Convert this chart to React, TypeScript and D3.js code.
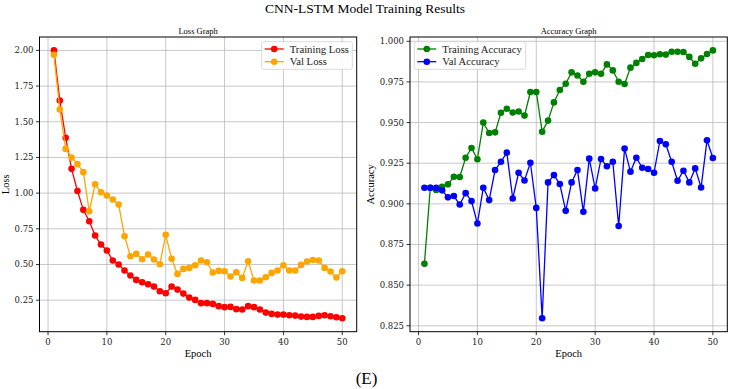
import React from "react";
import * as d3 from "d3";

const epochs: number[] = Array.from({ length: 50 }, (_, i) => i + 1);

const trainLoss: number[] = [
  2.0, 1.649, 1.388, 1.17, 1.015, 0.883, 0.803, 0.703, 0.64, 0.598,
  0.528, 0.5, 0.458, 0.423, 0.392, 0.376, 0.362, 0.345, 0.313, 0.299,
  0.345, 0.324, 0.296, 0.268, 0.252, 0.229, 0.229, 0.224, 0.208, 0.201,
  0.203, 0.187, 0.185, 0.208, 0.201, 0.185, 0.163, 0.154, 0.149, 0.149,
  0.144, 0.142, 0.135, 0.133, 0.133, 0.14, 0.144, 0.137, 0.13, 0.123,
];

const valLoss: number[] = [
  1.969, 1.586, 1.31, 1.249, 1.203, 1.147, 0.873, 1.062, 1.006, 0.983,
  0.955, 0.92, 0.698, 0.558, 0.575, 0.537, 0.57, 0.535, 0.502, 0.708,
  0.54, 0.434, 0.469, 0.476, 0.495, 0.528, 0.516, 0.444, 0.455, 0.453,
  0.416, 0.446, 0.406, 0.523, 0.388, 0.388, 0.411, 0.441, 0.458, 0.495,
  0.458, 0.458, 0.497, 0.521, 0.532, 0.528, 0.476, 0.451, 0.409, 0.453,
];

const trainAcc: number[] = [
  0.8632, 0.9099, 0.9085, 0.9105, 0.912, 0.9167, 0.9165, 0.9284, 0.9344, 0.9274,
  0.95, 0.9436, 0.944, 0.956, 0.9585, 0.9562, 0.9568, 0.9543, 0.9688, 0.9688,
  0.9444, 0.9512, 0.9624, 0.97, 0.9739, 0.9809, 0.979, 0.9751, 0.98, 0.9809,
  0.98, 0.9858, 0.9821, 0.9751, 0.9737, 0.9838, 0.9867, 0.9891, 0.9916, 0.9914,
  0.992, 0.9918, 0.9936, 0.9936, 0.9934, 0.9904, 0.9862, 0.9895, 0.9922, 0.9944,
];

const valAcc: number[] = [
  0.9099, 0.9099, 0.9099, 0.9083, 0.904, 0.9048, 0.8996, 0.9066, 0.9017, 0.8879,
  0.9099, 0.9023, 0.9208, 0.9259, 0.9315, 0.9033, 0.9191, 0.9144, 0.9253, 0.8975,
  0.8296, 0.9132, 0.9177, 0.9122, 0.8957, 0.9132, 0.9208, 0.8951, 0.9278, 0.9095,
  0.9276, 0.9231, 0.9259, 0.8864, 0.934, 0.9198, 0.9284, 0.9222, 0.9214, 0.9191,
  0.9387, 0.9367, 0.9259, 0.9142, 0.9204, 0.9132, 0.9218, 0.9101, 0.9391, 0.9282,
];

const xTicks: number[] = [0, 10, 20, 30, 40, 50];
const lossTicks: number[] = [0.25, 0.5, 0.75, 1.0, 1.25, 1.5, 1.75, 2.0];
const accTicks: number[] = [0.825, 0.85, 0.875, 0.9, 0.925, 0.95, 0.975, 1.0];

const SERIF = "'Liberation Serif', 'Times New Roman', serif";
const TICKFONT = "'DejaVu Serif', serif";

type Series = { name: string; values: number[]; color: string };

function pad(min: number, max: number): [number, number] {
  const r = max - min;
  return [min - 0.05 * r, max + 0.05 * r];
}

function Panel(props: {
  left: number; top: number; right: number; bottom: number;
  title: string; ylabel: string; yTicks: number[]; yFmt: (v: number) => string;
  series: Series[]; legend: { x: number; w: number };
  ylabelX: number;
}) {
  const { left, top, right, bottom, series } = props;
  const x = d3.scaleLinear().domain(pad(1, 50)).range([left, right]);
  const all = series.flatMap((s) => s.values);
  const y = d3.scaleLinear().domain(pad(d3.min(all)!, d3.max(all)!)).range([bottom, top]);
  const line = d3.line<number>().x((_, i) => x(epochs[i])).y((d) => y(d));
  const cx = (left + right) / 2;
  const cy = (top + bottom) / 2;
  const lg = props.legend;
  return (
    <g>
      {xTicks.map((t) => (
        <line key={"gx" + t} x1={x(t)} x2={x(t)} y1={top} y2={bottom} stroke="#b0b0b0" strokeOpacity={0.7} strokeWidth={1} />
      ))}
      {props.yTicks.map((t) => (
        <line key={"gy" + t} x1={left} x2={right} y1={y(t)} y2={y(t)} stroke="#b0b0b0" strokeOpacity={0.7} strokeWidth={1} />
      ))}
      {series.map((s) => (
        <g key={s.name}>
          <path d={line(s.values) || ""} fill="none" stroke={s.color} strokeWidth={1.3} />
          {s.values.map((v, i) => (
            <circle key={i} cx={x(epochs[i])} cy={y(v)} r={3.3} fill={s.color} />
          ))}
        </g>
      ))}
      <rect x={left} y={top} width={right - left} height={bottom - top} fill="none" stroke="#000" strokeWidth={1} />
      {xTicks.map((t) => (
        <g key={"tx" + t}>
          <line x1={x(t)} x2={x(t)} y1={bottom} y2={bottom + 3.5} stroke="#000" strokeWidth={0.8} />
          <text x={x(t)} y={bottom + 13} textAnchor="middle" fontFamily={TICKFONT} fontSize={8.5} fill="#222">{t}</text>
        </g>
      ))}
      {props.yTicks.map((t) => (
        <g key={"ty" + t}>
          <line x1={left - 3.5} x2={left} y1={y(t)} y2={y(t)} stroke="#000" strokeWidth={0.8} />
          <text x={left - 6} y={y(t) + 3} textAnchor="end" fontFamily={TICKFONT} fontSize={8.5} fill="#222">{props.yFmt(t)}</text>
        </g>
      ))}
      <text x={cx} y={top - 3} textAnchor="middle" fontFamily={SERIF} fontSize={8.5} fill="#000">{props.title}</text>
      <text x={cx} y={bottom + 25} textAnchor="middle" fontFamily={SERIF} fontSize={10.5} fill="#000">Epoch</text>
      <text transform={`translate(${props.ylabelX},${cy}) rotate(-90)`} textAnchor="middle" fontFamily={SERIF} fontSize={10.5} fill="#000">{props.ylabel}</text>
      <rect x={lg.x} y={top + 4.7} width={lg.w} height={27.6} rx={2} fill="#fff" fillOpacity={0.85} stroke="#d0d0d0" strokeWidth={0.8} />
      {series.map((s, i) => {
        const ly = top + 12 + i * 12.7;
        return (
          <g key={"lg" + s.name}>
            <line x1={lg.x + 3} x2={lg.x + 22} y1={ly} y2={ly} stroke={s.color} strokeWidth={1.3} />
            <circle cx={lg.x + 12.5} cy={ly} r={3.3} fill={s.color} />
            <text x={lg.x + 28} y={ly + 3.6} fontFamily={SERIF} fontSize={10.7} fill="#222">{s.name}</text>
          </g>
        );
      })}
    </g>
  );
}

export default function App() {
  return (
    <svg width={730} height={389} style={{ position: "absolute", left: 0, top: 0, background: "#fff" }}>
      <rect width={730} height={389} fill="#fff" />
      <text x={365} y={12.5} textAnchor="middle" fontFamily={SERIF} fontSize={13.5} fill="#000">CNN-LSTM Model Training Results</text>
      <Panel
        left={39.5} top={37} right={356.7} bottom={331.7}
        title="Loss Graph" ylabel="Loss" yTicks={lossTicks} yFmt={d3.format(".2f")}
        series={[
          { name: "Training Loss", values: trainLoss, color: "#ff0000" },
          { name: "Val Loss", values: valLoss, color: "#ffa500" },
        ]}
        legend={{ x: 261.7, w: 90.6 }}
        ylabelX={9}
      />
      <Panel
        left={410} top={37} right={727.3} bottom={331.7}
        title="Accuracy Graph" ylabel="Accuracy" yTicks={accTicks} yFmt={d3.format(".3f")}
        series={[
          { name: "Training Accuracy", values: trainAcc, color: "#008000" },
          { name: "Val Accuracy", values: valAcc, color: "#0000ff" },
        ]}
        legend={{ x: 414.3, w: 111.4 }}
        ylabelX={374}
      />
      <text x={366.5} y={383.5} textAnchor="middle" fontFamily={SERIF} fontSize={17} fill="#000">(E)</text>
    </svg>
  );
}
